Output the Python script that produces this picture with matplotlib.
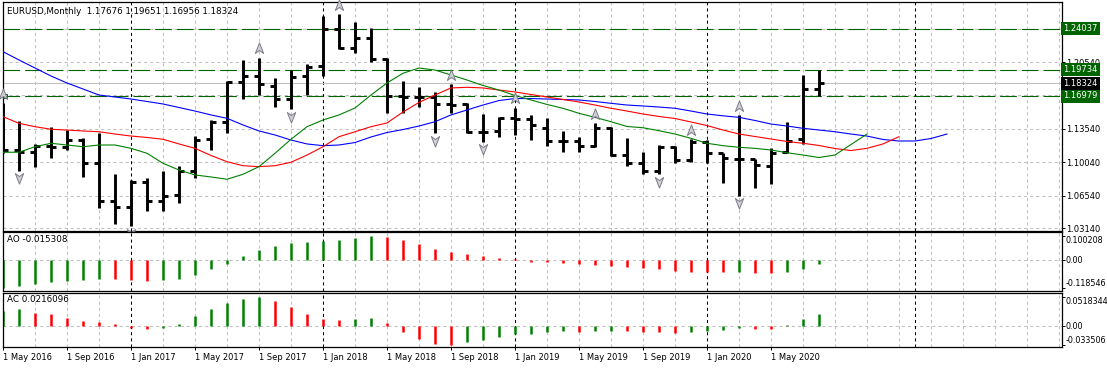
import matplotlib
matplotlib.use("Agg")
import matplotlib.pyplot as plt
from matplotlib import transforms
from matplotlib.path import Path

plt.rcParams["font.family"] = ["DejaVu Sans"]
plt.rcParams["font.size"] = 6
plt.rcParams["lines.scale_dashes"] = False

symbol = "EURUSD,Monthly"

# monthly bars, May 2016 .. Aug 2020
opens = [1.1453, 1.1135, 1.1110, 1.1175, 1.1160, 1.1236, 1.0995, 1.0595, 1.0535, 1.0799,
         1.0595, 1.0660, 1.0910, 1.1250, 1.1428, 1.1848, 1.1907, 1.1800, 1.1663, 1.1907,
         1.2010, 1.2404, 1.2198, 1.2309, 1.2085, 1.1698, 1.1690, 1.1692, 1.1612, 1.1615,
         1.1320, 1.1335, 1.1468, 1.1458, 1.1365, 1.1226, 1.1225, 1.1177, 1.1365, 1.1079,
         1.0992, 1.0912, 1.1167, 1.1027, 1.1212, 1.1097, 1.1040, 1.1037, 1.0965, 1.1110,
         1.1244, 1.17676]
highs = [1.1620, 1.1433, 1.1198, 1.1372, 1.1338, 1.1256, 1.1310, 1.0878, 1.0820, 1.0834,
         1.0910, 1.0965, 1.1276, 1.1450, 1.1853, 1.2073, 1.2097, 1.1882, 1.1968, 1.2028,
         1.2537, 1.2556, 1.2470, 1.2414, 1.2092, 1.1855, 1.1790, 1.1743, 1.1823, 1.1627,
         1.1509, 1.1481, 1.1575, 1.1498, 1.1464, 1.1331, 1.1271, 1.1411, 1.1376, 1.1254,
         1.1114, 1.1184, 1.1177, 1.1244, 1.1236, 1.1097, 1.1498, 1.1037, 1.1149, 1.1422,
         1.1918, 1.19651]
lows = [1.1098, 1.0915, 1.0955, 1.1050, 1.1128, 1.0852, 1.0528, 1.0360, 1.0330, 1.0492,
        1.0495, 1.0580, 1.0840, 1.1130, 1.1313, 1.1663, 1.1710, 1.1578, 1.1558, 1.1710,
        1.1907, 1.2188, 1.2153, 1.2058, 1.1516, 1.1516, 1.1578, 1.1305, 1.1516, 1.1305,
        1.1219, 1.1271, 1.1288, 1.1236, 1.1177, 1.1112, 1.1112, 1.1166, 1.1069, 1.0968,
        1.0880, 1.0880, 1.0992, 1.1009, 1.0999, 1.0783, 1.0650, 1.0730, 1.0772, 1.1100,
        1.1191, 1.16956]
closes = [1.1135, 1.1110, 1.1175, 1.1160, 1.1236, 1.0995, 1.0595, 1.0535, 1.0799, 1.0595,
          1.0653, 1.0910, 1.1238, 1.1428, 1.1848, 1.1907, 1.1827, 1.1663, 1.1900, 1.2000,
          1.2404, 1.2198, 1.2309, 1.2085, 1.1698, 1.1690, 1.1692, 1.1612, 1.1603, 1.1317,
          1.1322, 1.1470, 1.1452, 1.1394, 1.1226, 1.1224, 1.1177, 1.1365, 1.1079, 1.0992,
          1.0912, 1.1160, 1.1027, 1.1212, 1.1103, 1.1045, 1.1037, 1.0972, 1.1103, 1.1229,
          1.1771, 1.18324]

# alligator lines (shifted forward past the last bar)
jaw = [1.2162, 1.2075, 1.1991, 1.1907, 1.1834, 1.1771, 1.1708, 1.1687, 1.1666, 1.1640,
       1.1614, 1.1577, 1.1540, 1.1499, 1.1464, 1.1394, 1.1331, 1.1289, 1.1236, 1.1195,
       1.1177, 1.1184, 1.1210, 1.1268, 1.1315, 1.1346, 1.1383, 1.1428, 1.1499, 1.1551,
       1.1603, 1.1650, 1.1671, 1.1671, 1.1666, 1.1661, 1.1656, 1.1640, 1.1621, 1.1603,
       1.1593, 1.1582, 1.1569, 1.1540, 1.1509, 1.1490, 1.1474, 1.1441, 1.1404, 1.1383,
       1.1359, 1.1341, 1.1323, 1.1299, 1.1278, 1.1242, 1.1226, 1.1226, 1.1252, 1.1299]
teeth = [1.1481, 1.1411, 1.1376, 1.1349, 1.1341, 1.1331, 1.1323, 1.1299, 1.1278, 1.1263,
         1.1244, 1.1195, 1.1149, 1.1074, 1.1009, 1.0967, 1.0957, 1.0967, 1.1003, 1.1079,
         1.1166, 1.1271, 1.1323, 1.1376, 1.1415, 1.1530, 1.1630, 1.1708, 1.1782, 1.1789,
         1.1782, 1.1760, 1.1740, 1.1713, 1.1687, 1.1661, 1.1635, 1.1603, 1.1569, 1.1540,
         1.1509, 1.1483, 1.1462, 1.1425, 1.1388, 1.1341, 1.1299, 1.1273, 1.1247, 1.1221,
         1.1202, 1.1179, 1.1147, 1.1126, 1.1149, 1.1195, 1.1271]
lips = [1.1108, 1.1108, 1.1166, 1.1202, 1.1184, 1.1166, 1.1184, 1.1184, 1.1149, 1.1097,
        1.0992, 1.0922, 1.0870, 1.0849, 1.0825, 1.0877, 1.0957, 1.1097, 1.1244, 1.1376,
        1.1446, 1.1499, 1.1572, 1.1708, 1.1834, 1.1936, 1.1991, 1.1970, 1.1918, 1.1865,
        1.1808, 1.1760, 1.1703, 1.1656, 1.1609, 1.1569, 1.1516, 1.1474, 1.1428, 1.1378,
        1.1365, 1.1334, 1.1299, 1.1254, 1.1202, 1.1177, 1.1160, 1.1149, 1.1132, 1.1103,
        1.1079, 1.1053, 1.1079, 1.1189, 1.1299]

up_fractals = [0, 16, 21, 28, 32, 37, 43, 46]
down_fractals = [1, 8, 18, 27, 30, 41, 46]

ao = [-0.118546, -0.1075, -0.1004, -0.0907, -0.0865, -0.0837, -0.0795, -0.0800, -0.0837, -0.0879,
      -0.0837, -0.0795, -0.0628, -0.0377, -0.0167, 0.0167, 0.0446, 0.0586, 0.0725, 0.0767,
      0.0809, 0.0837, 0.0934, 0.100208, 0.0976, 0.0851, 0.0670, 0.0460, 0.0349, 0.0251,
      0.0167, 0.0084, 0.0042, -0.0070, -0.0084, -0.0112, -0.0167, -0.0209, -0.0251, -0.0293,
      -0.0335, -0.0377, -0.0446, -0.0480, -0.0500, -0.0505, -0.0495, -0.0530, -0.0535, -0.0490,
      -0.0377, -0.015308]
ac = [0.0268, 0.0304, 0.0244, 0.0214, 0.0143, 0.0089, 0.0071, 0.0036, -0.0036, -0.0054,
      -0.0030, 0.0036, 0.0179, 0.0304, 0.0411, 0.0482, 0.0518344, 0.0446, 0.0339, 0.0214,
      0.0125, 0.0107, 0.0125, 0.0143, 0.0054, -0.0101, -0.0225, -0.0315, -0.033506, -0.0280,
      -0.0250, -0.0190, -0.0149, -0.0137, -0.0101, -0.0089, -0.0101, -0.0089, -0.0083, -0.0086,
      -0.0101, -0.0104, -0.0119, -0.0101, -0.0083, -0.0065, -0.0030, -0.0048, -0.0050, 0.0018,
      0.0119, 0.0216096]

levels = [1.24037, 1.19734, 1.16979]
bid = 1.18324
price_ticks = [1.03140, 1.06540, 1.10040, 1.13540, 1.20540]
price_grid = [1.03140, 1.06540, 1.10040, 1.13540, 1.17040, 1.20540, 1.24040]
date_labels = ["1 May 2016", "1 Sep 2016", "1 Jan 2017", "1 May 2017", "1 Sep 2017",
               "1 Jan 2018", "1 May 2018", "1 Sep 2018", "1 Jan 2019", "1 May 2019",
               "1 Sep 2019", "1 Jan 2020", "1 May 2020"]
separators = [8, 20, 32, 44, 57]

W, H = 1107, 368
fig = plt.figure(figsize=(W / 100, H / 100), dpi=100)


def panel(l, t, r, b):
    return fig.add_axes([l / W, 1 - b / H, (r - l) / W, (b - t) / H])


ax = panel(2.7, 2.3, 1061.5, 230.5)
ax_ao = panel(2.7, 232, 1061.5, 290.7)
ax_ac = panel(2.7, 293, 1061.5, 346.7)

n = len(closes)
idx = list(range(n))
grid_kw = dict(color="#c0c0c0", lw=0.75, dashes=(2.2, 2.2), zorder=0)

for a in (ax, ax_ao, ax_ac):
    a.set_xlim(-0.02, 66.16)
    for s in a.spines.values():
        s.set_linewidth(0.9)
    a.yaxis.tick_right()
    a.tick_params(axis="y", direction="out", length=2.2, width=0.7, pad=1.3, labelsize=6)
    a.tick_params(axis="x", length=0, labelbottom=False)
    for g in range(2, 67, 2):
        if g not in separators:
            a.axvline(g, **grid_kw)
    for s in separators:
        a.axvline(s, color="black", lw=0.75, dashes=(2.2, 2.2), zorder=0.5)

# ---- price panel
ax.set_ylim(1.02878, 1.26798)
ax.set_yticks(price_ticks, [f"{v:.5f}" for v in price_ticks])
for g in price_grid:
    ax.axhline(g, **grid_kw)
ax.axhline(bid, color="#c0c0c0", lw=0.8, zorder=0.6)
for lv in levels:
    ax.axhline(lv, color="#006400", lw=0.8, dashes=(12, 3.6), zorder=0.7)
ax.plot(0.15, levels[2], marker="s", ms=3, mfc="white", mec="#006400", mew=0.7,
        clip_on=False, zorder=4)

ax.vlines(idx, lows, highs, color="black", lw=2.1, zorder=2)
ax.hlines(opens, [i - 0.3 for i in idx], idx, color="black", lw=2.1, zorder=2)
ax.hlines(closes, idx, [i + 0.3 for i in idx], color="black", lw=2.1, zorder=2)

ax.plot(range(len(jaw)), jaw, color="#0000ff", lw=0.8, zorder=3)
ax.plot(range(len(teeth)), teeth, color="#ff0000", lw=0.8, zorder=3)
ax.plot(range(len(lips)), lips, color="#008000", lw=0.8, zorder=3)

up_arrow = Path([(0, 1), (0.75, -0.9), (0, -0.35), (-0.75, -0.9), (0, 1)],
                [Path.MOVETO, Path.LINETO, Path.LINETO, Path.LINETO, Path.CLOSEPOLY])
down_arrow = Path([(0, -1), (0.75, 0.9), (0, 0.35), (-0.75, 0.9), (0, -1)],
                  [Path.MOVETO, Path.LINETO, Path.LINETO, Path.LINETO, Path.CLOSEPOLY])
up_tr = transforms.offset_copy(ax.transData, fig=fig, y=9.5, units="dots")
dn_tr = transforms.offset_copy(ax.transData, fig=fig, y=-7.5, units="dots")
frac_kw = dict(ls="none", ms=8, mfc="#cfd0d8", mec="#7c7c88", mew=0.7, clip_on=False, zorder=4)
ax.plot(up_fractals, [highs[i] for i in up_fractals], marker=up_arrow, transform=up_tr, **frac_kw)
ax.plot(down_fractals, [lows[i] for i in down_fractals], marker=down_arrow, transform=dn_tr, **frac_kw)

ytr = ax.get_yaxis_transform()
for lv in levels + [bid]:
    ax.annotate(f"{lv:.5f}", xy=(1, lv), xycoords=ytr, xytext=(1.2, 0),
                textcoords="offset points", ha="left", va="center", color="white",
                fontsize=6, zorder=5, annotation_clip=False,
                bbox=dict(boxstyle="square,pad=0.25",
                          fc="black" if lv == bid else "#006400", ec="none"))

fig.text(7 / W, 1 - 11 / H,
         f"{symbol}  {opens[-1]:.5f} {highs[-1]:.5f} {lows[-1]:.5f} {closes[-1]:.5f}",
         va="center", ha="left", fontsize=6.3)


# ---- oscillators
def osc_panel(a, vals, lo, hi, fmt_hi, fmt_lo):
    cols = ["#008000"] + ["#008000" if vals[i] > vals[i - 1] else "#ff0000"
                          for i in range(1, len(vals))]
    a.vlines(idx, 0, vals, colors=cols, lw=1.8, zorder=2)
    a.axhline(0, **grid_kw)
    a.set_ylim(lo, hi)
    a.set_yticks([min(vals), 0, max(vals)], ["", "", ""])
    t = a.get_yaxis_transform()
    lab = dict(xycoords=t, xytext=(2.7, 0), textcoords="offset points", ha="left",
               fontsize=5.8, annotation_clip=False)
    a.annotate(fmt_hi.format(max(vals)), xy=(1, max(vals)), va="top", **lab)
    a.annotate("0.00", xy=(1, 0), va="center", **lab)
    a.annotate(fmt_lo.format(min(vals)), xy=(1, min(vals)), va="bottom", **lab)


osc_panel(ax_ao, ao, -0.1285, 0.1184, "{:.6f}", "{:.6f}")
osc_panel(ax_ac, ac, -0.0370, 0.0595, "{:.7f}", "{:.6f}")
fig.text(7 / W, 1 - 240 / H, f"AO {ao[-1]:.6f}", va="center", ha="left", fontsize=6.3)
fig.text(7 / W, 1 - 300 / H, f"AC {ac[-1]:.7f}", va="center", ha="left", fontsize=6.3)

ax_ac.set_xticks(list(range(0, 4 * len(date_labels), 4)), date_labels)
ax_ac.tick_params(axis="x", direction="out", length=2.2, width=0.7, pad=2.5,
                  labelbottom=True, labelsize=6)
for t in ax_ac.get_xticklabels():
    t.set_ha("left")

fig.savefig("out.png", dpi=100)
